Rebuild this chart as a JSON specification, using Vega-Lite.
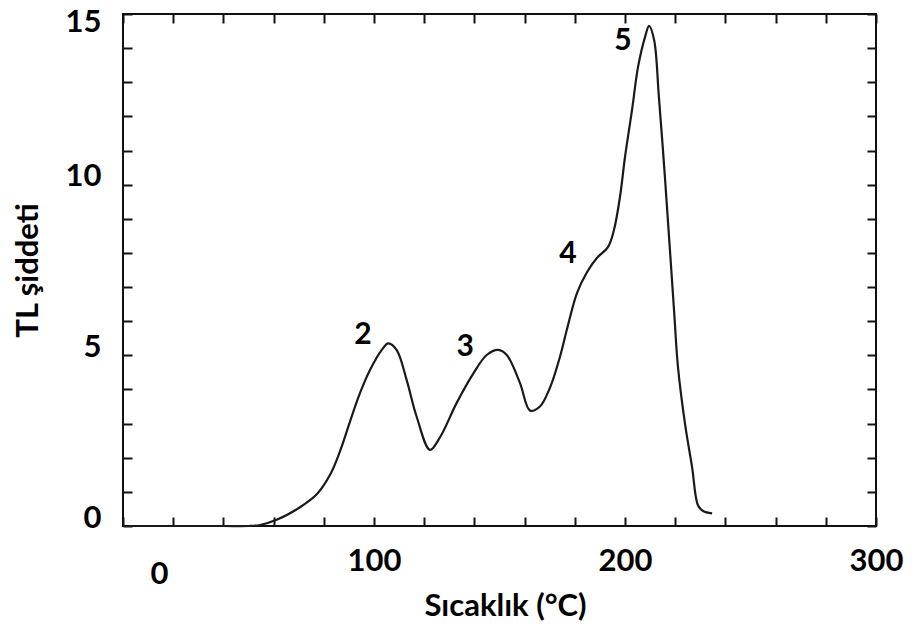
{
  "$schema": "https://vega.github.io/schema/vega-lite/v6.json",
  "width": 753,
  "height": 512,
  "autosize": "none",
  "padding": {"left": 123, "top": 14, "right": 36, "bottom": 103},
  "config": {
    "view": {"stroke": "#111111", "strokeWidth": 2},
    "font": "Lato",
    "axis": {"grid": false, "domain": false, "tickColor": "#111111", "tickWidth": 2, "labelColor": "#000000", "titleColor": "#000000", "labelFont": "Lato", "titleFont": "Lato"}
  },
  "datasets": {
    "curve": [
      {"T": 0, "I": 0}, {"T": 20, "I": 0}, {"T": 40, "I": 0}, {"T": 50, "I": 0},
      {"T": 54.6, "I": 0.03}, {"T": 61.2, "I": 0.18}, {"T": 70.5, "I": 0.55}, {"T": 77.2, "I": 0.93},
      {"T": 82.5, "I": 1.5}, {"T": 86.5, "I": 2.2}, {"T": 90.4, "I": 3.05}, {"T": 94.4, "I": 3.89},
      {"T": 98.4, "I": 4.57}, {"T": 103.1, "I": 5.16}, {"T": 105.7, "I": 5.35}, {"T": 109, "I": 5.16},
      {"T": 113, "I": 4.28}, {"T": 117, "I": 3.2}, {"T": 122.3, "I": 2.23}, {"T": 126.3, "I": 2.6},
      {"T": 132.9, "I": 3.6}, {"T": 139.6, "I": 4.47}, {"T": 144.9, "I": 5.01}, {"T": 149.5, "I": 5.16},
      {"T": 152.9, "I": 5.01}, {"T": 158.2, "I": 4.18}, {"T": 162.2, "I": 3.38}, {"T": 166.1, "I": 3.5},
      {"T": 170.1, "I": 4.05}, {"T": 174.1, "I": 4.96}, {"T": 176.8, "I": 5.74}, {"T": 180.9, "I": 6.83},
      {"T": 184.9, "I": 7.44}, {"T": 188.8, "I": 7.85}, {"T": 193.2, "I": 8.17}, {"T": 195.6, "I": 8.67},
      {"T": 198, "I": 9.64}, {"T": 200, "I": 10.81}, {"T": 202.8, "I": 12.19}, {"T": 205.2, "I": 13.45},
      {"T": 208, "I": 14.33}, {"T": 209.6, "I": 14.65}, {"T": 211.6, "I": 14.24}, {"T": 213.5, "I": 12.57},
      {"T": 215.9, "I": 10.23}, {"T": 217.9, "I": 8.09}, {"T": 219.6, "I": 6.25}, {"T": 221.1, "I": 4.66},
      {"T": 223.9, "I": 3.0}, {"T": 226.7, "I": 1.74}, {"T": 229.1, "I": 0.6}, {"T": 231.1, "I": 0.44},
      {"T": 234.7, "I": 0.37}
    ],
    "peaks": [
      {"T": 95.6, "I": 5.6, "label": "2"},
      {"T": 136.3, "I": 5.24, "label": "3"},
      {"T": 177.3, "I": 7.97, "label": "4"},
      {"T": 199.2, "I": 14.21, "label": "5"}
    ]
  },
  "layer": [
    {
      "data": {"name": "curve"},
      "mark": {"type": "line", "interpolate": "catmull-rom", "color": "#1a1a1a", "strokeWidth": 2.2},
      "encoding": {
        "x": {
          "field": "T", "type": "quantitative",
          "scale": {"domain": [0, 300], "nice": false},
          "axis": {
            "orient": "bottom",
            "values": [0, 20, 40, 60, 80, 100, 120, 140, 160, 180, 200, 220, 240, 260, 280, 300],
            "labelExpr": "datum.value % 100 == 0 ? datum.label : ''",
            "tickSize": -9,
            "labelFontSize": 31, "labelFontWeight": "bold",
            "labelPadding": {"condition": {"test": "datum.value == 0", "value": 42}, "value": 29},
            "labelOffset": {"condition": {"test": "datum.value == 0", "value": 36}, "value": 0},
            "labelFlush": false,
            "title": "Sıcaklık (°C)", "titleFontSize": 31, "titleFontWeight": "bold",
            "titleY": 80, "titleBaseline": "middle", "titleX": 382
          }
        },
        "y": {
          "field": "I", "type": "quantitative",
          "scale": {"domain": [0, 15], "nice": false},
          "axis": {
            "orient": "left",
            "values": [0, 1, 2, 3, 4, 5, 6, 7, 8, 9, 10, 11, 12, 13, 14, 15],
            "labelExpr": "datum.value % 5 == 0 ? datum.label : ''",
            "tickSize": -9,
            "labelFontSize": 31, "labelFontWeight": "bold",
            "labelPadding": 31,
            "labelOffset": {"condition": {"test": "datum.value == 15", "value": 8}, "value": -8},
            "labelFlush": false,
            "title": "TL şiddeti", "titleFontSize": 31, "titleFontWeight": "bold",
            "titleX": -95, "titleBaseline": "middle"
          }
        }
      }
    },
    {
      "data": {"name": "peaks"},
      "mark": {"type": "text", "fontSize": 30, "fontWeight": "bold", "font": "Lato", "color": "#000000", "align": "center", "baseline": "middle"},
      "encoding": {
        "x": {
          "field": "T", "type": "quantitative",
          "axis": {"orient": "top", "values": [0, 20, 40, 60, 80, 100, 120, 140, 160, 180, 200, 220, 240, 260, 280, 300], "labels": false, "tickSize": -9, "title": null}
        },
        "y": {
          "field": "I", "type": "quantitative",
          "axis": {"orient": "right", "values": [0, 1, 2, 3, 4, 5, 6, 7, 8, 9, 10, 11, 12, 13, 14, 15], "labels": false, "tickSize": -9, "title": null}
        },
        "text": {"field": "label"}
      }
    }
  ],
  "resolve": {"axis": {"x": "independent", "y": "independent"}}
}
